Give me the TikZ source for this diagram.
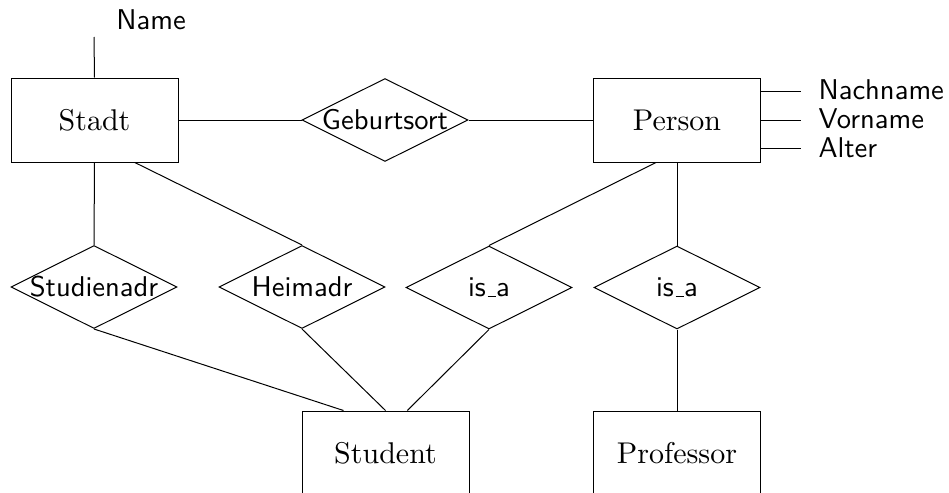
\documentclass[tikz,border=0pt]{standalone}
\usetikzlibrary{shapes.geometric,calc}
\newcommand{\sanstxt}[1]{\scalebox{1.43}{\sffamily\fontsize{10}{12}\selectfont #1}}
\newcommand{\seriftxt}[1]{\scalebox{1.5}{\rmfamily\fontsize{10}{12}\selectfont #1}}
\newcommand{\shortus}{\leavevmode\kern.06em\vbox{\hrule width.3em}}
\begin{document}
\begin{tikzpicture}[x=0.5pt,y=-0.5pt,line width=0.5pt,
  entity/.style={draw,rectangle,minimum width=83.5pt,minimum height=42pt,inner sep=0pt},
  relation/.style={draw,diamond,minimum width=83pt,minimum height=41.5pt,inner sep=0pt},
  attr/.style={inner sep=0pt}]
\useasboundingbox (0,0) rectangle (949,493);
% entities
\node[entity] (Stadt) at (94.5,120) {\seriftxt{Stadt}};
\node[entity] (Person) at (677,120) {\seriftxt{Person}};
\node[entity] (Student) at (385.5,453) {\seriftxt{Student}};
\node[entity] (Professor) at (677,453) {\seriftxt{Professor}};
% relationships
\node[relation] (Geburtsort) at (385,120) {\makebox[0pt]{\sanstxt{Geburtsort}}};
\node[relation] (Studienadr) at (94,287) {\makebox[0pt]{\sanstxt{Studienadr}}};
\node[relation] (Heimadr) at (302,287) {\makebox[0pt]{\sanstxt{Heimadr}}};
\node[relation] (isa1) at (489,287.5) {\makebox[0pt]{\sanstxt{is\shortus a}}};
\node[relation] (isa2) at (677,287.5) {\makebox[0pt]{\sanstxt{is\shortus a}}};
% attributes
\coordinate (nameend) at (94,37);
\node[attr,anchor=base] (Name) at (151,29) {\sanstxt{Name}};
\coordinate (a1) at (801,91);
\coordinate (a2) at (801,120);
\coordinate (a3) at (801,148);
\node[attr,anchor=base west] (Nachname) at (818,99) {\sanstxt{Nachname}};
\node[attr,anchor=base west] (Vorname) at (818,128) {\sanstxt{Vorname}};
\node[attr,anchor=base west] (Alter) at (818,157) {\sanstxt{Alter}};
\draw (Stadt.north) -- (nameend);
\draw (Person.east |- a1) -- (a1);
\draw (Person.east |- a2) -- (a2);
\draw (Person.east |- a3) -- (a3);
% connectors
\draw (Stadt.east) -- (Geburtsort.west);
\draw (Geburtsort.east) -- (Person.west);
\draw (Stadt.south) -- (Studienadr.north);
\draw ($(Stadt.south west)!0.74!(Stadt.south east)$) -- (Heimadr.north);
\draw ($(Person.south west)!0.375!(Person.south east)$) -- (isa1.north);
\draw (Person.south) -- (isa2.north);
\draw (isa2.south) -- (Professor.north);
\draw (Studienadr.south) -- ($(Student.north west)!0.25!(Student.north east)$);
\draw (Heimadr.south) -- (Student.north);
\draw (isa1.south) -- ($(Student.north west)!0.63!(Student.north east)$);
\end{tikzpicture}
\end{document}
